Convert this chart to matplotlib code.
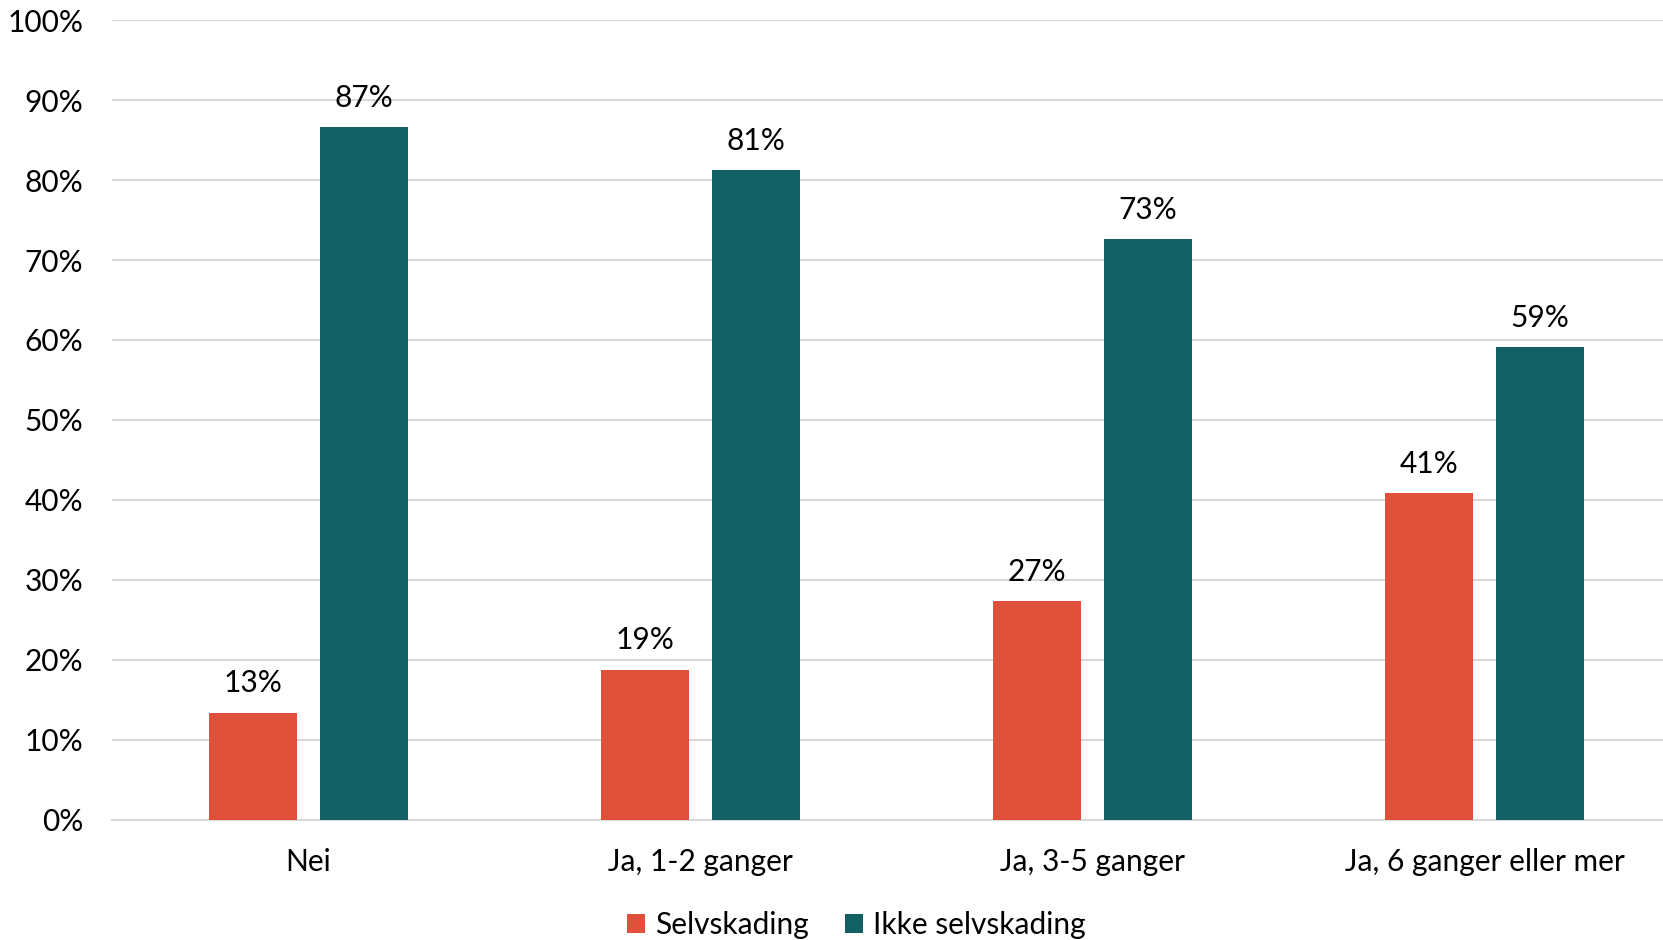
import numpy as np
import matplotlib.pyplot as plt
from matplotlib.ticker import PercentFormatter

plt.rcParams['font.family'] = ['Lato', 'DejaVu Sans']

# data
categories = ["Nei", "Ja, 1-2 ganger", "Ja, 3-5 ganger", "Ja, 6 ganger eller mer"]
selvskading = [13.4, 18.8, 27.4, 40.9]
ikke_selvskading = [86.6, 81.2, 72.6, 59.1]
series_names = ["Selvskading", "Ikke selvskading"]

red = '#E0503B'
teal = '#135F66'
fs = 21.5

fig = plt.figure(figsize=(16.63, 9.40), dpi=100)
# axes runs a bit past the right edge, like the original
ax = fig.add_axes([0.0676, 0.1277, 0.943, 0.851])

x = np.arange(len(categories))
w = 0.2245
off = 0.142
b1 = ax.bar(x - off, selvskading, w, color=red, label=series_names[0], zorder=3)
b2 = ax.bar(x + off, ikke_selvskading, w, color=teal, label=series_names[1], zorder=3)

for bars in (b1, b2):
    for rect in bars:
        h = rect.get_height()
        ax.annotate(f"{h:.0f}%", (rect.get_x() + rect.get_width() / 2, h),
                    xytext=(0, 11), textcoords='offset points',
                    ha='center', va='bottom', fontsize=fs)

ax.set_xlim(-0.5, len(categories) - 0.5)
ax.set_ylim(0, 100)
ax.set_yticks(np.arange(0, 101, 10))
ax.yaxis.set_major_formatter(PercentFormatter(decimals=0))
ax.set_xticks(x)
ax.set_xticklabels(categories)
ax.tick_params(axis='both', length=0, labelsize=fs)
ax.tick_params(axis='x', pad=20)
ax.tick_params(axis='y', pad=21)

ax.grid(axis='y', color='#D9D9D9', linewidth=1.5, zorder=0)
for s in ['top', 'right', 'left']:
    ax.spines[s].set_visible(False)
ax.spines['bottom'].set_color('#D9D9D9')
ax.spines['bottom'].set_linewidth(1.5)

fig.legend(loc='lower center', bbox_to_anchor=(0.515, -0.028), ncol=2,
           frameon=False, fontsize=fs, handlelength=0.6, handleheight=0.6,
           handletextpad=0.35, columnspacing=1.2)

fig.savefig("out.png", dpi=100)
